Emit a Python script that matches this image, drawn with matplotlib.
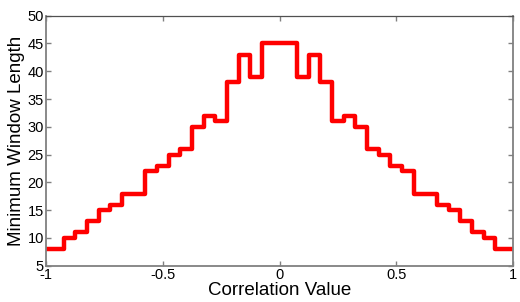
import numpy as np
import matplotlib
matplotlib.use('Agg')
import matplotlib.pyplot as plt

plt.rcParams['font.family'] = ['Liberation Sans', 'DejaVu Sans']

# Data
corr = np.round(np.arange(-1, 1.0001, 0.05), 2)
min_len = [8, 8, 10, 11, 13, 15, 16, 18, 18, 22, 23, 25, 26, 30, 32, 31, 38, 43, 39,
           45, 45, 45,
           39, 43, 38, 31, 32, 30, 26, 25, 23, 22, 18, 18, 16, 15, 13, 11, 10, 8, 8]
x_ticks = [-1, -0.5, 0, 0.5, 1]
x_tick_labels = ['-1', '-0.5', '0', '0.5', '1']
y_ticks = [5, 10, 15, 20, 25, 30, 35, 40, 45, 50]

fig = plt.figure(figsize=(5.2, 3.02), dpi=100)
ax = fig.add_axes([0.0885, 0.12, 0.898, 0.828])

ax.step(corr, min_len, where='mid', color='red', linewidth=3.2)

ax.set_xlim(-1, 1)
ax.set_ylim(5, 50)
ax.set_xticks(x_ticks)
ax.set_xticklabels(x_tick_labels)
ax.set_yticks(y_ticks)
ax.tick_params(direction='in', length=3.5, width=1, color='#808080',
               labelsize=10.5, pad=1.5, top=True, right=True)

for side in ['left', 'bottom', 'right']:
    ax.spines[side].set_color('#808080')
    ax.spines[side].set_linewidth(1.3)
ax.spines['top'].set_color('#505050')
ax.spines['top'].set_linewidth(0.9)

ax.set_xlabel('Correlation Value', fontsize=13.5, labelpad=0)
ax.set_ylabel('Minimum Window Length', fontsize=13.5, labelpad=2)

fig.savefig('out.png', dpi=100)
